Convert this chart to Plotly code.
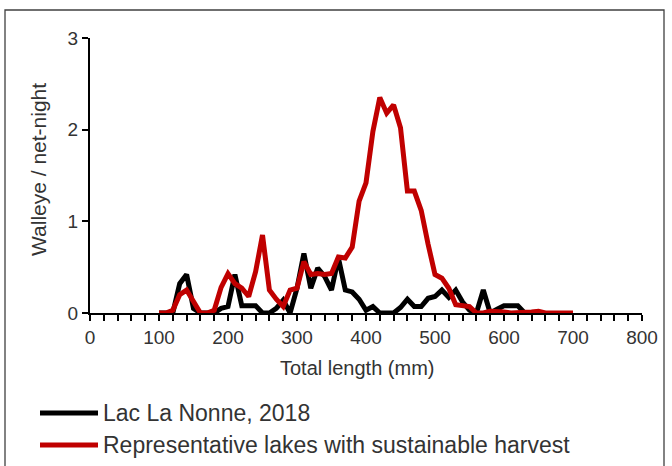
import plotly.graph_objects as go

# Total length bins (mm)
lengths_lac = [100, 110, 120, 130, 140, 150, 160, 170, 180, 190, 200, 210, 220, 230, 240, 250,
               260, 270, 280, 290, 300, 310, 320, 330, 340, 350, 360, 370, 380, 390, 400, 410,
               420, 430, 440, 450, 460, 470, 480, 490, 500, 510, 520, 530, 540, 550, 560, 570,
               580, 590, 600, 610, 620, 630]
cpue_lac = [0, 0, 0, 0.32, 0.42, 0.05, 0, 0, 0, 0.05, 0.07, 0.42, 0.08, 0.08, 0.08, 0,
            0, 0.05, 0.14, 0.0, 0.27, 0.65, 0.27, 0.49, 0.40, 0.25, 0.60, 0.25, 0.23, 0.15, 0.03, 0.07,
            0, 0, 0, 0.06, 0.15, 0.07, 0.07, 0.16, 0.18, 0.25, 0.17, 0.25, 0.12, 0.03, 0, 0.25,
            0, 0.04, 0.08, 0.08, 0.08, 0]

lengths_rep = [100, 110, 120, 130, 140, 150, 160, 170, 180, 190, 200, 210, 220, 230, 240, 250,
               260, 270, 280, 290, 300, 310, 320, 330, 340, 350, 360, 370, 380, 390, 400, 410,
               420, 430, 440, 450, 460, 470, 480, 490, 500, 510, 520, 530, 540, 550, 560, 570,
               580, 590, 600, 610, 620, 630, 640, 650, 660, 670, 680, 690, 700]
cpue_rep = [0, 0, 0.03, 0.20, 0.25, 0.12, 0, 0, 0.03, 0.28, 0.43, 0.32, 0.27, 0.18, 0.45, 0.85,
            0.25, 0.15, 0.07, 0.25, 0.27, 0.56, 0.42, 0.43, 0.42, 0.43, 0.61, 0.60, 0.72, 1.22, 1.42, 1.98,
            2.35, 2.18, 2.27, 2.02, 1.33, 1.33, 1.12, 0.75, 0.42, 0.38, 0.27, 0.09, 0.08, 0.07, 0.0, 0.0,
            0.02, 0.02, 0.01, 0.0, 0.0, 0.0, 0.01, 0.02, 0.0, 0.0, 0.0, 0.0, 0.0]

series_names = ["Lac La Nonne, 2018", "Representative lakes with sustainable harvest"]
series_colors = ["#000000", "#C00000"]

x_tick_vals = [0, 100, 200, 300, 400, 500, 600, 700, 800]
y_tick_vals = [0, 1, 2, 3]

FONT = "Liberation Sans, Arial, sans-serif"
TXT = "#333333"

fig = go.Figure()
fig.add_trace(go.Scatter(x=lengths_lac, y=cpue_lac, mode="lines", name=series_names[0],
                         line=dict(color=series_colors[0], width=5), showlegend=False))
fig.add_trace(go.Scatter(x=lengths_rep, y=cpue_rep, mode="lines", name=series_names[1],
                         line=dict(color=series_colors[1], width=5), showlegend=False))

W, H = 672, 466
L, R, T, B = 90, 30, 38, 153
pw, ph = W - L - R, H - T - B


def px(xp):
    return (xp - L) / pw


def py(yp):
    return (H - B - yp) / ph


shapes = [
    dict(type="rect", xref="paper", yref="paper", x0=px(5), x1=px(664), y0=py(475), y1=py(10),
         line=dict(color="#404040", width=1.3), fillcolor="rgba(0,0,0,0)", layer="below"),
]
annotations = [
    dict(text="Total length (mm)", xref="paper", yref="paper", x=px(357), y=py(368),
         xanchor="center", yanchor="middle", showarrow=False,
         font=dict(family=FONT, size=20, color=TXT)),
    dict(text="Walleye / net-night", xref="paper", yref="paper", x=px(38), y=py(170),
         xanchor="center", yanchor="middle", showarrow=False, textangle=-90,
         font=dict(family=FONT, size=21, color=TXT)),
]
leg_y = [413, 445]
for i in range(2):
    shapes.append(dict(type="line", xref="paper", yref="paper", x0=px(40), x1=px(98),
                       y0=py(leg_y[i]), y1=py(leg_y[i]),
                       line=dict(color=series_colors[i], width=5)))
    annotations.append(dict(text=series_names[i], xref="paper", yref="paper", x=px(101), y=py(leg_y[i]),
                            xanchor="left", yanchor="middle", showarrow=False,
                            font=dict(family=FONT, size=23, color=TXT)))

fig.update_layout(
    width=W, height=H,
    margin=dict(l=L, r=R, t=T, b=B, autoexpand=False),
    paper_bgcolor="white", plot_bgcolor="white",
    font=dict(family=FONT, color=TXT),
    shapes=shapes, annotations=annotations,
    showlegend=False,
)
fig.update_xaxes(
    range=[0, 800], tickvals=x_tick_vals, ticks="outside", ticklen=6, tickwidth=2, tickcolor="black",
    showline=True, linecolor="black", linewidth=2, showgrid=False, zeroline=False,
    tickfont=dict(size=19, color=TXT),
    minor=dict(dtick=20, ticks="outside", ticklen=6, tickwidth=2, tickcolor="black", showgrid=False),
)
fig.update_yaxes(
    range=[0, 3], tickvals=y_tick_vals, ticks="outside", ticklen=6, tickwidth=2, tickcolor="black",
    showline=True, linecolor="black", linewidth=2, showgrid=False, zeroline=False,
    tickfont=dict(size=19, color=TXT),
)

fig.write_html("out.html")
